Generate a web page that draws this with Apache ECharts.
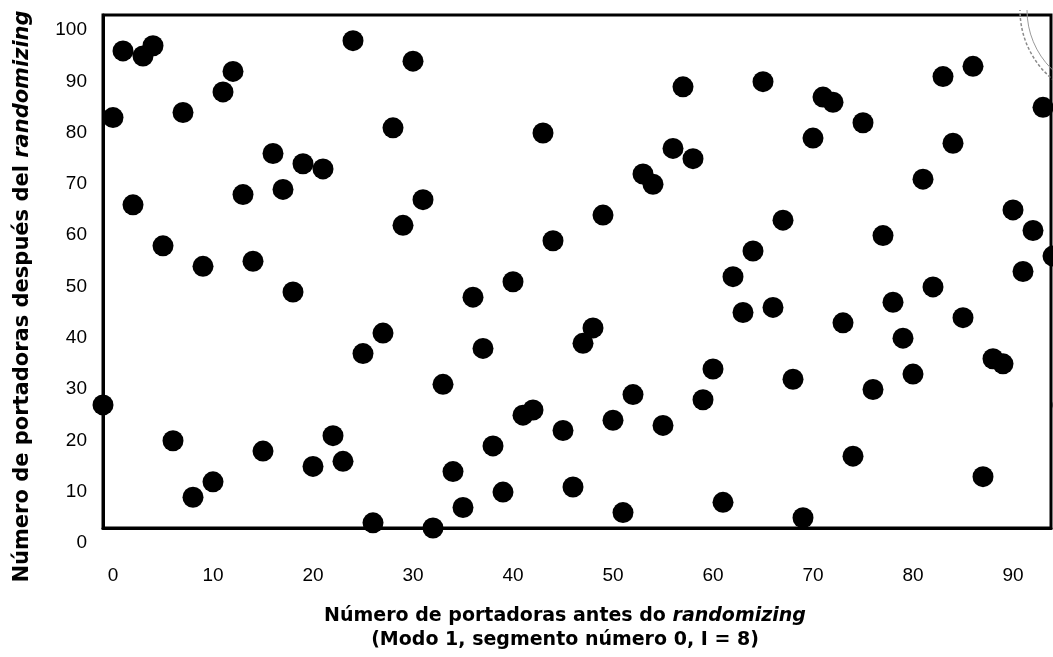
<!DOCTYPE html>
<html>
<head>
<meta charset="utf-8">
<script src="https://cdn.jsdelivr.net/npm/echarts@6/dist/echarts.min.js"></script>
<style>
  html, body { margin: 0; padding: 0; background: #ffffff; }
  #chart { width: 1053px; height: 657px; }
</style>
</head>
<body>
<div id="chart"></div>
<script>
// Carrier index inside the segment before randomizing (Mode 1, 96 data carriers)
const carrierBefore = [
  0, 1, 2, 3, 4, 5, 6, 7, 8, 9, 10, 11, 12, 13, 14, 15,
  16, 17, 18, 19, 20, 21, 22, 23, 24, 25, 26, 27, 28, 29, 30, 31,
  32, 33, 34, 35, 36, 37, 38, 39, 40, 41, 42, 43, 44, 45, 46, 47,
  48, 49, 50, 51, 52, 53, 54, 55, 56, 57, 58, 59, 60, 61, 62, 63,
  64, 65, 66, 67, 68, 69, 70, 71, 72, 73, 74, 75, 76, 77, 78, 79,
  80, 81, 82, 83, 84, 85, 86, 87, 88, 89, 90, 91, 92, 93, 94, 95
];

// Carrier index after randomizing
const carrierAfter = [
  80, 93, 63, 92, 94, 55, 17, 81, 6, 51, 9, 85, 89, 65, 52, 15,
  73, 66, 46, 71, 12, 70, 18, 13, 95, 34, 1, 38, 78, 59, 91, 64,
  0, 28, 11, 4, 45, 35, 16, 7, 48, 22, 23, 77, 56, 19, 8, 36,
  39, 61, 21, 3, 26, 69, 67, 20, 74, 86, 72, 25, 31, 5, 49, 42,
  54, 87, 43, 60, 29, 2, 76, 84, 83, 40, 14, 79, 27, 57, 44, 37,
  30, 68, 47, 88, 75, 41, 90, 10, 33, 32, 62, 50, 58, 82, 53, 24
];

// Last carrier repeated one step before carrier 0 (k - 96)
const wrapBefore = [-1];
const wrapAfter = [24];

// Axis tick labels
const xTickValues = [0, 10, 20, 30, 40, 50, 60, 70, 80, 90];
const yTickValues = [0, 10, 20, 30, 40, 50, 60, 70, 80, 90, 100];

const points = carrierBefore.map((k, i) => [k, carrierAfter[i]])
  .concat(wrapBefore.map((k, i) => [k, wrapAfter[i]]));

const chart = echarts.init(document.getElementById('chart'), null, { renderer: 'canvas' });

chart.setOption({
  animation: false,
  backgroundColor: '#ffffff',
  grid: {
    left: 103,
    top: 15,
    right: 2,
    bottom: 129,
    show: true,
    borderColor: '#000000',
    borderWidth: 3,
    backgroundColor: 'transparent'
  },
  // faint seal partly visible in the upper right corner
  graphic: [
    {
      type: 'arc',
      silent: true,
      shape: { cx: 1110, cy: 10, r: 90, startAngle: Math.PI * 0.5, endAngle: Math.PI * 1.0 },
      style: { fill: 'none', stroke: '#8a8a8a', lineWidth: 1.5, lineDash: [3, 2] }
    },
    {
      type: 'arc',
      silent: true,
      shape: { cx: 1110, cy: 10, r: 83, startAngle: Math.PI * 0.5, endAngle: Math.PI * 1.0 },
      style: { fill: 'none', stroke: '#9a9a9a', lineWidth: 1 }
    }
  ],
  xAxis: {
    type: 'value',
    min: -1,
    max: 93.8,
    axisLine: { show: true, onZero: false, lineStyle: { color: '#000000', width: 3 } },
    axisTick: { show: false },
    splitLine: { show: false },
    axisLabel: {
      customValues: xTickValues,
      color: '#000000',
      fontFamily: 'Liberation Sans',
      fontSize: 19,
      margin: 38
    },
    name: 'Número de portadoras antes do {it|randomizing}\n(Modo 1, segmento número 0, I = 8)',
    nameLocation: 'middle',
    nameGap: 76,
    nameTextStyle: {
      color: '#000000',
      fontFamily: 'DejaVu Sans',
      fontWeight: 'bold',
      fontSize: 19,
      lineHeight: 24,
      align: 'center',
      padding: [0, 24, 0, 0],
      rich: {
        it: {
          fontFamily: 'DejaVu Sans',
          fontWeight: 'bold',
          fontStyle: 'italic',
          fontSize: 19,
          lineHeight: 24,
          color: '#000000'
        }
      }
    }
  },
  yAxis: {
    type: 'value',
    min: 0,
    max: 100,
    axisLine: { show: true, onZero: false, lineStyle: { color: '#000000', width: 3 } },
    axisTick: { show: false },
    splitLine: { show: false },
    axisLabel: {
      customValues: yTickValues,
      color: '#000000',
      fontFamily: 'Liberation Sans',
      fontSize: 19,
      margin: 16,
      verticalAlign: 'top',
      lineHeight: 30
    },
    name: 'Número de portadoras después del {it|randomizing}',
    nameLocation: 'middle',
    nameGap: 70,
    nameTextStyle: {
      color: '#000000',
      fontFamily: 'DejaVu Sans',
      fontWeight: 'bold',
      fontSize: 21,
      padding: [0, 50, 0, 0],
      rich: {
        it: {
          fontFamily: 'DejaVu Sans',
          fontWeight: 'bold',
          fontStyle: 'italic',
          fontSize: 21,
          color: '#000000'
        }
      }
    }
  },
  series: [{
    type: 'scatter',
    data: points,
    symbol: 'circle',
    symbolSize: 21,
    clip: false,
    itemStyle: { color: '#000000', opacity: 1 },
    emphasis: { disabled: true }
  }]
});
</script>
</body>
</html>
